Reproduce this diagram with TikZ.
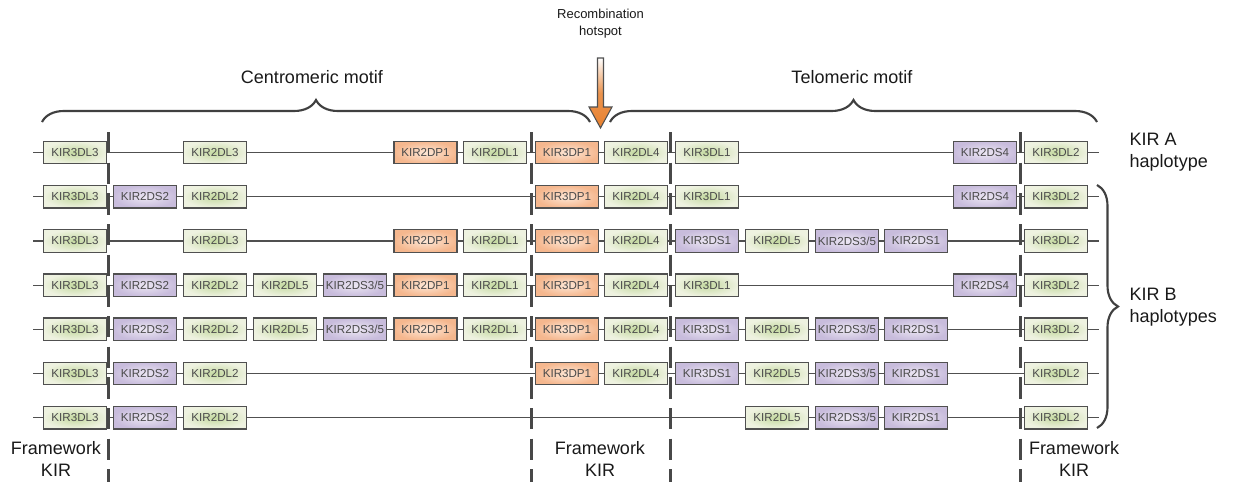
\documentclass[tikz,border=0pt]{standalone}
\usepackage{fontspec}
\setmainfont{Liberation Sans}
\usepackage{xcolor}
\usetikzlibrary{decorations.pathreplacing}

\definecolor{linegray}{HTML}{505050}
\definecolor{textgray}{HTML}{4A4A4A}
\definecolor{greenin}{HTML}{C4D9A0}
\definecolor{greenout}{HTML}{EEF2E0}
\definecolor{purpin}{HTML}{ECE7F3}
\definecolor{purpout}{HTML}{C8BCDC}
\definecolor{orangein}{HTML}{FDE7D6}
\definecolor{orangeout}{HTML}{F5B78E}
\definecolor{arroworange}{HTML}{E8812F}

\tikzset{
  gene/.style={draw=linegray, line width=1pt, minimum width=47.25pt, minimum height=16.9pt,
    inner sep=0pt, text=textgray, font=\fontsize{8.7}{10}\selectfont},
  kirg/.style={gene, inner color=greenin, outer color=greenout},
  kirp/.style={gene, inner color=purpin, outer color=purpout},
  kiro/.style={gene, inner color=orangein, outer color=orangeout},
  rowline/.style={draw=linegray, line width=0.9pt},
  sepline/.style={draw=linegray!90!black, line width=2.25pt, dash pattern=on 16pt off 7pt},
  bigtext/.style={text=black!90, font=\fontsize{13.5}{16.5}\selectfont, align=center},
  smalltext/.style={text=black!90, font=\fontsize{9.75}{12.75}\selectfont, align=center},
  bracket/.style={decorate, draw=linegray!80!black, line width=1.6pt},
}

% one haplotype: #1 row number, #2 list of x/style/name
\newcommand{\kirrow}[2]{%
  \foreach \c/\s/\t [count=\i, remember=\i as \lasti (initially 0)] in {#2} {
    \node[\s] (r#1-\i) at (\c, {152.5+44.2*(#1-1)}) {\t};
    \ifnum\i>1 \draw[rowline] (r#1-\lasti) -- (r#1-\i); \fi
  }%
}

\begin{document}
\begin{tikzpicture}[x=0.75pt, y=-0.75pt]
    \useasboundingbox (0,0) rectangle (1233,482);

    % Haplotypes
    \kirrow{1}{33/coordinate/, 75/kirg/KIR3DL3, 215/kirg/KIR2DL3, 425.5/kiro/KIR2DP1, 495/kirg/KIR2DL1,
      567/kiro/KIR3DP1, 636/kirg/KIR2DL4, 707/kirg/KIR3DL1, 985/kirp/KIR2DS4, 1056/kirg/KIR3DL2, 1099/coordinate/}
    \kirrow{2}{33/coordinate/, 75/kirg/KIR3DL3, 145/kirp/KIR2DS2, 215/kirg/KIR2DL2,
      567/kiro/KIR3DP1, 636/kirg/KIR2DL4, 707/kirg/KIR3DL1, 985/kirp/KIR2DS4, 1056/kirg/KIR3DL2, 1099/coordinate/}
    \kirrow{3}{33/coordinate/, 75/kirg/KIR3DL3, 215/kirg/KIR2DL3, 425.5/kiro/KIR2DP1, 495/kirg/KIR2DL1,
      567/kiro/KIR3DP1, 636/kirg/KIR2DL4, 707/kirp/KIR3DS1, 777/kirg/KIR2DL5, 847/kirp/{KIR2DS3/5},
      916/kirp/KIR2DS1, 1056/kirg/KIR3DL2, 1099/coordinate/}
    \kirrow{4}{33/coordinate/, 75/kirg/KIR3DL3, 145/kirp/KIR2DS2, 215/kirg/KIR2DL2, 285/kirg/KIR2DL5,
      355/kirp/{KIR2DS3/5}, 425.5/kiro/KIR2DP1, 495/kirg/KIR2DL1, 567/kiro/KIR3DP1, 636/kirg/KIR2DL4,
      707/kirg/KIR3DL1, 985/kirp/KIR2DS4, 1056/kirg/KIR3DL2, 1099/coordinate/}
    \kirrow{5}{33/coordinate/, 75/kirg/KIR3DL3, 145/kirp/KIR2DS2, 215/kirg/KIR2DL2, 285/kirg/KIR2DL5,
      355/kirp/{KIR2DS3/5}, 425.5/kiro/KIR2DP1, 495/kirg/KIR2DL1, 567/kiro/KIR3DP1, 636/kirg/KIR2DL4,
      707/kirp/KIR3DS1, 777/kirg/KIR2DL5, 847/kirp/{KIR2DS3/5}, 916/kirp/KIR2DS1, 1056/kirg/KIR3DL2, 1099/coordinate/}
    \kirrow{6}{33/coordinate/, 75/kirg/KIR3DL3, 145/kirp/KIR2DS2, 215/kirg/KIR2DL2,
      567/kiro/KIR3DP1, 636/kirg/KIR2DL4, 707/kirp/KIR3DS1, 777/kirg/KIR2DL5, 847/kirp/{KIR2DS3/5},
      916/kirp/KIR2DS1, 1056/kirg/KIR3DL2, 1099/coordinate/}
    \kirrow{7}{33/coordinate/, 75/kirg/KIR3DL3, 145/kirp/KIR2DS2, 215/kirg/KIR2DL2,
      777/kirg/KIR2DL5, 847/kirp/{KIR2DS3/5}, 916/kirp/KIR2DS1, 1056/kirg/KIR3DL2, 1099/coordinate/}

    % Framework boundaries
    \foreach \x in {108.5,531,670.5,1020.5}
      \draw[sepline] (\x,132) -- (\x,482);

    % Motif braces
    \coordinate (cenL) at (42,122);
    \coordinate (cenR) at (590,122);
    \coordinate (telL) at (610,122);
    \coordinate (telR) at (1097,122);
    \draw[bracket, decoration={brace, amplitude=16.5pt}] (cenL) -- (cenR);
    \draw[bracket, decoration={brace, amplitude=16.5pt}] (telL) -- (telR);
    \node[bigtext] (cen) at (312,77) {Centromeric motif};
    \node[bigtext] (tel) at (852,77) {Telomeric motif};

    % Hotspot arrow
    \node[smalltext] (hot) at (600.5,24) {Recombination\\hotspot};
    \draw[draw=linegray, line width=0.8pt, top color=white, bottom color=arroworange, middle color=arroworange!85]
      (597.5,58) -- (603.5,58) -- (603.5,107) -- (612,107) -- (600.5,128) -- (589,107) -- (597.5,107) -- cycle;

    % Haplotype groups
    \node[bigtext, anchor=west, align=left] (hapA) at (1125,152.5) {KIR A\\haplotype};
    \coordinate (bTop) at (1097,185);
    \coordinate (bBot) at (1097,428);
    \draw[bracket, decoration={brace, amplitude=15.75pt}] (bTop) -- (bBot);
    \node[bigtext, anchor=west, align=left] (hapB) at (1125,307) {KIR B\\haplotypes};

    % Labels
    \node[bigtext] (fw1) at (56,459) {Framework\\KIR};
    \node[bigtext] (fw2) at (600,459) {Framework\\KIR};
    \node[bigtext] (fw3) at (1074,459) {Framework\\KIR};
\end{tikzpicture}
\end{document}
